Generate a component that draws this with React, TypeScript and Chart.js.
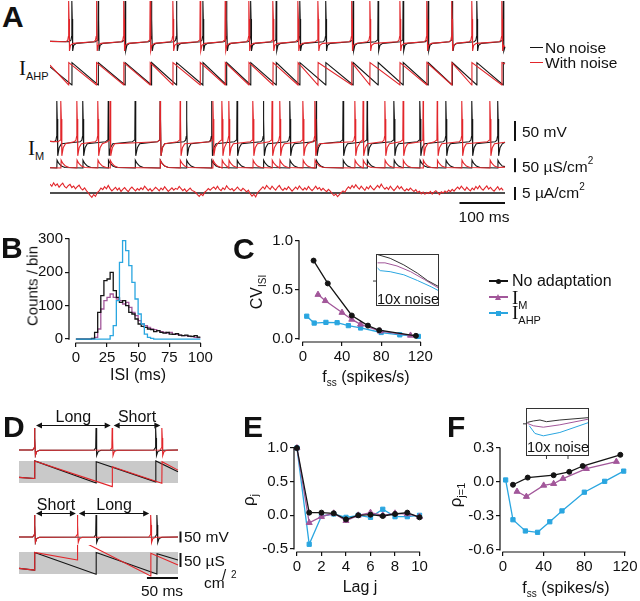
import React, { useEffect, useRef } from "react";
import { Chart, registerables } from "chart.js";

Chart.register(...registerables);

const SANS = "'Liberation Sans', Arial, Helvetica, sans-serif";
const SERIF = "'Liberation Serif', 'Times New Roman', serif";
const INK = "#111111";
const BLACK = "#141414";
const RED = "#e2262b";
const PURPLE = "#a2579a";
const BLUE = "#2aa6e0";
const GRAY_BAND = "#c9c9c9";

Chart.defaults.font.family = SANS;
Chart.defaults.font.size = 15;
Chart.defaults.color = INK;

// ---------------- Panel A data (ms) ----------------
const ahpSpikesNoNoise = [48, 106, 165, 223, 278, 336, 388, 441, 497, 549, 606, 666, 721, 776, 831, 884, 938, 996];
const ahpSpikesNoise = [41, 102, 162, 220, 270, 330, 385, 437, 490, 545, 589, 663, 703, 769, 828, 883, 927, 993];
const imSpikesNoNoise = [15, 72, 128, 187, 242, 300, 355, 411, 469, 527, 585, 644, 697, 756, 813, 870, 927, 984];
const imSpikesNoise = [24, 59, 105, 132, 242, 286, 358, 378, 393, 446, 488, 505, 556, 582, 670, 688, 736, 776, 820, 851, 905, 967];

// spike waveform templates: [time from spike (ms), membrane potential (mV)]
const ahpSpikeShape = [[-6, -57], [-2, -53], [-0.6, -44], [0, 45], [0.9, 0], [1.8, -80], [4, -66], [10, -61]];
const imSpikeShape = [[-6, -57], [-2, -53], [-0.6, -44], [0, 45], [0.9, 0], [2, -92], [5, -72], [10, -62]];
// conductance templates: [time from spike (ms), conductance (uS/cm2)]
const ahpCondShape = [[0, 10], [0.3, 90]];
const imCondShape = [[0, 5], [0.5, 33], [4, 22], [10, 12], [18, 7]];

// injected noise current (uA/cm2), sampled every NOISE_DT ms
const NOISE_DT = 4;
const noiseCurrent = [
  3.4, 2.6, 3.9, 2.8, 3.5, 2.2, 3.1, 3.8, 2.5, 1.9,
  2.8, 3.3, 2.1, 2.7, 1.6, 2.4, 3.0, 1.8, 1.2, 2.0,
  0.9, 0.1, -0.9, -1.7, -0.6, -1.3, 0.2, 0.8, 1.9, 1.3,
  2.4, 1.6, 2.9, 1.7, 0.8, 1.5, 2.2, 1.1, 1.9, 0.6,
  1.4, 2.1, 1.2, 0.5, 1.6, 2.3, 1.5, 0.8, 1.7, 1.1,
  2.0, 1.3, 2.6, 1.8, 0.9, 1.7, 0.7, 1.4, 2.2, 1.6,
  0.8, 1.9, 1.2, 2.4, 1.5, 0.6, 1.3, 2.0, 1.1, 1.8,
  1.4, 2.5, 1.7, 0.9, 1.6, 0.5, 1.2, 1.9, 1.0, 0.7,
  0.2, -0.6, -1.3, -0.4, -1.0, 0.3, 0.9, 1.7, 1.1, 1.8,
  2.3, 1.4, 2.6, 1.5, 0.9, 2.0, 1.3, 2.8, 1.9, 1.2,
  1.7, 0.8, 1.5, 2.3, 1.4, 0.9, 1.8, 1.2, 0.4, 1.1,
  -0.3, -1.2, -0.5, -1.5, 0.0, 0.8, 1.6, 2.4, 1.5, 2.9,
  2.1, 1.4, 2.6, 1.8, 1.1, 2.2, 2.9, 1.7, 1.0, 1.9,
  1.3, 2.4, 1.6, 0.7, 1.5, 2.3, 1.4, 2.7, 1.8, 1.1,
  2.0, 1.2, 2.5, 1.6, 0.9, 1.7, 2.6, 1.5, 2.1, 1.0,
  1.8, 1.1, 0.5, 1.4, 0.7, -0.2, -1.0, -0.4, -1.4, -0.6,
  0.1, 0.8, 0.3, 1.5, 2.4, 1.7, 2.9, 2.0, 3.2, 2.2,
  1.5, 2.6, 1.8, 1.0, 2.3, 1.6, 2.8, 1.9, 1.2, 2.1,
  2.9, 2.0, 3.4, 2.3, 1.5, 2.2, 1.3, 2.6, 1.7, 0.9,
  1.8, 2.7, 1.6, 2.4, 1.4, 0.8, 1.6, 1.0, 1.9, 1.2,
  0.6, 1.3, 0.2, 0.7, -0.3, 0.4, -0.5, 0.2, -0.2, 0.6,
  -0.4, 0.3, 0.9, 0.1, -0.6, 0.5, 0.0, 0.8, 0.2, 1.1,
  0.5, 1.4, 0.7, 1.6, 2.3, 1.5, 2.6, 1.8, 1.0, 2.2,
  1.4, 0.8, 1.9, 1.2, 2.5, 1.6, 2.8, 1.7, 1.1, 2.0,
  2.7, 1.5, 2.2, 1.3, 0.7, 1.6, 2.4, 1.2, 1.9, 1.0,
];

// ---------------- Panel B: ISI histograms ----------------
const histBinEdges = [0, 2.5, 5, 7.5, 10, 12.5, 15, 17.5, 20, 22.5, 25, 27.5, 30, 32.5, 35, 37.5, 40, 42.5, 45, 47.5,
  50, 52.5, 55, 57.5, 60, 62.5, 65, 67.5, 70, 72.5, 75, 77.5, 80, 82.5, 85, 87.5, 90, 92.5, 95, 97.5];
const histNoAdaptation = [0, 0, 0, 0, 0, 2, 20, 80, 130, 175, 180, 200, 145, 125, 110, 115, 100, 80, 75, 60,
  45, 38, 35, 30, 28, 22, 25, 20, 18, 20, 15, 14, 16, 12, 10, 12, 9, 8, 10, 6];
const histIM = [0, 0, 0, 0, 0, 0, 5, 30, 90, 115, 125, 135, 125, 120, 115, 105, 110, 95, 80, 70,
  55, 45, 40, 35, 30, 28, 25, 22, 20, 18, 20, 15, 14, 12, 10, 10, 8, 7, 5, 4];
const histIAHP = [0, 0, 0, 0, 0, 0, 0, 0, 0, 0, 0, 10, 40, 115, 230, 295, 265, 220, 170, 120,
  75, 45, 15, 5, 2, 0, 0, 0, 0, 0, 0, 0, 0, 0, 0, 0, 0, 0, 0, 0];
const histTicksX = [0, 25, 50, 75, 100];
const histTicksY = [0, 100, 200, 300];

// ---------------- Panel C: CV vs rate ----------------
const cvRateNoAdaptation = [11, 25.5, 50, 66.5, 78, 115.5];
const cvNoAdaptation = [0.8, 0.567, 0.24, 0.137, 0.09, 0.033];
const cvRateIM = [15.5, 23, 40, 50, 59, 79, 110];
const cvIM = [0.453, 0.39, 0.27, 0.2, 0.15, 0.08, 0.037];
const cvRateIAHP = [4, 11.6, 23.6, 35, 46.5, 59, 80, 99, 118];
const cvIAHP = [0.233, 0.163, 0.17, 0.167, 0.137, 0.113, 0.067, 0.043, 0.027];
const cvTicksX = [0, 40, 80, 120];
const cvTicksY = [0, 0.5, 1.0];
// inset (10x noise), normalised units
const cvInsetRateNoAdaptation = [2.5, 27, 53, 79, 98, 120];
const cvInsetNoAdaptation = [0.99, 0.917, 0.79, 0.63, 0.49, 0.37];
const cvInsetRateIM = [3, 17, 40, 66, 92, 120];
const cvInsetIM = [0.83, 0.83, 0.77, 0.66, 0.51, 0.34];
const cvInsetRateIAHP = [3, 8, 27, 53, 79, 105, 120];
const cvInsetIAHP = [0.73, 0.68, 0.66, 0.6, 0.49, 0.37, 0.29];

// ---------------- Panel D: example ISI pairs ----------------
const dTopSpikesNoNoise = [25, 124, 220];
const dTopSpikesNoise = [25, 150, 230];
const dBotSpikesNoNoise = [25, 124, 222];
const dBotSpikesNoise = [25, 94, 212];
const dSpikeShape = [[-3, -55], [-0.5, -45], [0, 45], [0.7, 0], [1.4, -80], [3.5, -62], [8, -56]];
const dTopCondTimesNoNoise = [0, 25, 25.3, 124, 124.3, 220, 220.3, 256];
const dTopCondNoNoise = [20, 16, 79, 0, 76, 4, 79, 40];
const dTopCondTimesNoise = [0, 25, 25.3, 150, 150.3, 230, 230.3, 256];
const dTopCondNoise = [20, 16, 79, -13, 58, -1, 76, 46];
const dBotCondTimesNoNoise = [0, 25, 25.3, 124, 124.3, 222, 222.3, 256];
const dBotCondNoNoise = [20, 14, 77, -1, 77, 0, 72, 50];
const dBotCondTimesNoise = [0, 25, 25.3, 94, 94.3, 212, 212.3, 256];
const dBotCondNoise = [20, 14, 77, 50, 125, -7, 74, 32];

// ---------------- Panel E: serial correlation ----------------
const lags = [0, 1, 2, 3, 4, 5, 6, 7, 8, 9, 10];
const rhoNoAdaptation = [1.0, 0.04, 0.04, 0.03, -0.06, 0.0, 0.01, -0.01, 0.02, 0.04, -0.03];
const rhoIM = [1.0, -0.11, -0.02, 0.03, -0.08, 0.0, 0.04, 0.0, 0.03, 0.02, -0.02];
const rhoIAHP = [1.0, -0.43, -0.01, 0.02, -0.03, 0.0, -0.03, 0.09, -0.02, -0.02, 0.0];
const lagTicksX = [0, 2, 4, 6, 8, 10];
const rhoTicksY = [-0.5, 0, 0.5, 1.0];

// ---------------- Panel F: rho1 vs rate ----------------
const rho1RateNoAdaptation = [9.8, 24.3, 49.8, 65.2, 78.4, 115.4];
const rho1NoAdaptation = [-0.024, 0.039, 0.06, 0.09, 0.141, 0.24];
const rho1RateIM = [13.8, 23, 40, 49.8, 59, 82, 111.5];
const rho1IM = [-0.084, -0.129, -0.03, -0.015, 0.03, 0.117, 0.18];
const rho1RateIAHP = [2.6, 9.8, 22, 34, 46, 58, 80, 100, 118.7];
const rho1IAHP = [0.018, -0.333, -0.432, -0.444, -0.351, -0.255, -0.09, 0.006, 0.096];
const rho1TicksX = [0, 40, 80, 120];
const rho1TicksY = [-0.6, -0.3, 0, 0.3];
const rho1InsetRateNoAdaptation = [2.5, 14, 26.6, 39, 64.5, 120];
const rho1InsetNoAdaptation = [0.7, 0.73, 0.75, 0.715, 0.75, 0.8];
const rho1InsetRateIM = [2.5, 14, 33, 64.5, 120];
const rho1InsetIM = [0.68, 0.63, 0.6, 0.65, 0.77];
const rho1InsetRateIAHP = [6.3, 17, 33, 64.5, 120];
const rho1InsetIAHP = [0.63, 0.47, 0.42, 0.49, 0.7];

// ---------------- helpers ----------------
const zip = (xs: number[], ys: number[]) => xs.map((x, i) => ({ x, y: ys[i] }));

function spikeTrace(spikes: number[], shape: number[][], t0: number, t1: number, startV: number, endV: number, preGuard: number, postGuard: number) {
  const pts: any[] = [{ x: t0, y: startV }];
  spikes.forEach((s, i) => {
    const prev = i > 0 ? spikes[i - 1] : -1e9;
    const next = i < spikes.length - 1 ? spikes[i + 1] : 1e9;
    shape.forEach(([dt, v]) => {
      const t = s + dt;
      if (t <= t0 || t >= t1) return;
      if (dt < 0 && t <= prev + preGuard) return;
      if (dt > 0 && t >= next - postGuard) return;
      pts.push({ x: t, y: v });
    });
  });
  pts.push({ x: t1, y: endV });
  return pts;
}

function condTrace(spikes: number[], shape: number[][], t0: number, t1: number, startV: number, endV: number) {
  const pts: any[] = [{ x: t0, y: startV }];
  spikes.forEach((s, i) => {
    const next = i < spikes.length - 1 ? spikes[i + 1] : 1e9;
    shape.forEach(([dt, v]) => {
      const t = s + dt;
      if (t <= t0 || t >= t1 || t >= next - 0.5) return;
      pts.push({ x: t, y: v });
    });
  });
  pts.push({ x: t1, y: endV });
  return pts;
}

function histPoints(edges: number[], counts: number[], end: number) {
  const pts = edges.map((e, i) => ({ x: e, y: counts[i] }));
  pts.push({ x: end, y: counts[counts.length - 1] });
  return pts;
}

const traceDs = (data: any[], color: string, width = 1.1) => ({
  data, borderColor: color, borderWidth: width, pointRadius: 0, tension: 0, clip: false, fill: false,
});

const markerDs = (data: any[], color: string, style: string, radius: number) => ({
  data, borderColor: color, backgroundColor: color, borderWidth: 1.3, pointStyle: style,
  pointRadius: radius, pointBorderWidth: 1, pointBackgroundColor: color, pointBorderColor: color, tension: 0, clip: false,
});

// ---------------- plugins ----------------
const rangeAxes = {
  id: "rangeAxes",
  afterDraw(chart: any) {
    const { ctx, chartArea, scales } = chart;
    const xs = scales.x, ys = scales.y;
    const xt = xs.ticks.map((t: any) => xs.getPixelForValue(t.value));
    const yt = ys.ticks.map((t: any) => ys.getPixelForValue(t.value));
    ctx.save();
    ctx.strokeStyle = INK;
    ctx.lineWidth = 1.2;
    ctx.beginPath();
    ctx.moveTo(Math.min(...xt) - 0.6, chartArea.bottom);
    ctx.lineTo(Math.max(...xt) + 0.6, chartArea.bottom);
    ctx.moveTo(chartArea.left, Math.min(...yt) - 0.6);
    ctx.lineTo(chartArea.left, Math.max(...yt) + 0.6);
    ctx.stroke();
    ctx.restore();
  },
};

function makeScaleBars(bars: { x: number[]; y: number[]; w: number }[]) {
  return {
    id: "scaleBars",
    afterDatasetsDraw(chart: any) {
      const { ctx, scales } = chart;
      ctx.save();
      ctx.strokeStyle = INK;
      bars.forEach((b) => {
        ctx.lineWidth = b.w;
        ctx.beginPath();
        ctx.moveTo(scales.x.getPixelForValue(b.x[0]), scales.y.getPixelForValue(b.y[0]));
        ctx.lineTo(scales.x.getPixelForValue(b.x[1]), scales.y.getPixelForValue(b.y[1]));
        ctx.stroke();
      });
      ctx.restore();
    },
  };
}

function makeFrame(yTicks: number[], xTicks: number[]) {
  return {
    id: "insetFrame",
    afterDraw(chart: any) {
      const { ctx, chartArea: a, scales } = chart;
      ctx.save();
      ctx.strokeStyle = "#333";
      ctx.lineWidth = 1;
      ctx.strokeRect(a.left + 0.5, a.top + 0.5, a.right - a.left - 1, a.bottom - a.top - 1);
      ctx.beginPath();
      yTicks.forEach((v) => {
        const py = scales.y.getPixelForValue(v);
        ctx.moveTo(a.left - 3, py);
        ctx.lineTo(a.left, py);
      });
      xTicks.forEach((v) => {
        const px = scales.x.getPixelForValue(v);
        ctx.moveTo(px, a.bottom);
        ctx.lineTo(px, a.bottom + 3);
      });
      ctx.stroke();
      ctx.restore();
    },
  };
}

function makeBand(color: string) {
  return {
    id: "band",
    beforeDatasetsDraw(chart: any) {
      const { ctx, chartArea: a } = chart;
      ctx.save();
      ctx.fillStyle = color;
      ctx.fillRect(a.left, a.top, a.right - a.left, a.bottom - a.top);
      ctx.restore();
    },
  };
}

function makeArrows(arrows: { from: number; to: number; label: string }[], yVal: number) {
  return {
    id: "isiArrows",
    afterDatasetsDraw(chart: any) {
      const { ctx, scales } = chart;
      const py = Math.round(scales.y.getPixelForValue(yVal)) + 0.5;
      ctx.save();
      ctx.strokeStyle = INK;
      ctx.fillStyle = INK;
      ctx.lineWidth = 1.2;
      ctx.font = `16px ${SANS}`;
      ctx.textAlign = "center";
      ctx.textBaseline = "alphabetic";
      const head = (x: number, dir: number) => {
        ctx.beginPath();
        ctx.moveTo(x, py);
        ctx.lineTo(x + dir * 6, py - 3);
        ctx.lineTo(x + dir * 6, py + 3);
        ctx.closePath();
        ctx.fill();
      };
      arrows.forEach((a) => {
        const x0 = scales.x.getPixelForValue(a.from) + 1.5;
        const x1 = scales.x.getPixelForValue(a.to) - 1.5;
        ctx.beginPath();
        ctx.moveTo(x0 + 3, py);
        ctx.lineTo(x1 - 3, py);
        ctx.stroke();
        head(x0, 1);
        head(x1, -1);
        ctx.fillText(a.label, (x0 + x1) / 2, py - 4);
      });
      ctx.restore();
    },
  };
}

// ---------------- config builders ----------------
function baseOptions(padding: any, scales: any) {
  return {
    animation: false,
    responsive: false,
    maintainAspectRatio: false,
    events: [],
    layout: { padding },
    plugins: { legend: { display: false }, tooltip: { enabled: false } },
    scales,
  };
}

function hiddenScales(xMin: number, xMax: number, yMin: number, yMax: number) {
  return {
    x: { type: "linear", display: false, min: xMin, max: xMax },
    y: { type: "linear", display: false, min: yMin, max: yMax },
  };
}

function axis(min: number, max: number, ticks: number[], fit: number, isX: boolean, fmt: (v: number) => string) {
  return {
    type: "linear",
    min,
    max,
    afterBuildTicks: (s: any) => {
      s.ticks = ticks.map((v) => ({ value: v }));
    },
    afterFit: (s: any) => {
      if (isX) s.height = fit;
      else s.width = fit;
    },
    grid: { drawOnChartArea: false, drawTicks: true, tickLength: 4, color: INK, lineWidth: 1.2 },
    border: { display: false },
    ticks: { padding: 2, color: INK, font: { size: 15, family: SANS }, autoSkip: false, maxRotation: 0, callback: (v: number) => fmt(v) },
  };
}

const fmt1 = (v: number) => v.toFixed(1);
const fmt0 = (v: number) => String(Math.round(v));

// ---------------- React pieces ----------------
function ChartCanvas({ left, top, width, height, make }: any) {
  const ref = useRef<HTMLCanvasElement>(null);
  useEffect(() => {
    const chart = new Chart(ref.current as HTMLCanvasElement, make());
    return () => chart.destroy();
  }, []);
  return (
    <canvas
      ref={ref}
      width={width}
      height={height}
      style={{ position: "absolute", left, top, width, height }}
    />
  );
}

function Txt({ x, y, size = 16, bold = false, family = SANS, anchor = "start", children }: any) {
  const top = y - 0.8465 * size;
  const transform = anchor === "middle" ? "translateX(-50%)" : anchor === "end" ? "translateX(-100%)" : undefined;
  return (
    <div
      style={{
        position: "absolute", left: x, top, fontSize: size, lineHeight: `${size}px`, fontFamily: family,
        fontWeight: bold ? "bold" : "normal", whiteSpace: "nowrap", transform, color: INK,
      }}
    >
      {children}
    </div>
  );
}

function VTxt({ cx, cy, size = 16, children }: any) {
  return (
    <div
      style={{
        position: "absolute", left: cx, top: cy, fontSize: size, lineHeight: 1, fontFamily: SANS,
        whiteSpace: "nowrap", transform: "translate(-50%, -50%) rotate(-90deg)", color: INK,
      }}
    >
      {children}
    </div>
  );
}

const Sub = ({ children, size = 11 }: any) => (
  <span style={{ fontSize: size, position: "relative", top: size * 0.4, lineHeight: 0, fontFamily: SANS }}>{children}</span>
);
const Sup = ({ children, size = 11 }: any) => (
  <span style={{ fontSize: size, position: "relative", top: -size * 0.75, lineHeight: 0, fontFamily: SANS }}>{children}</span>
);
const SerifI = ({ size = 20 }: any) => (
  <span style={{ fontFamily: SERIF, fontSize: size, lineHeight: 0 }}>I</span>
);

function LegendLine({ x1, x2, y, color, marker }: any) {
  const cx = (x1 + x2) / 2;
  let m: any = null;
  if (marker === "circle")
    m = <div style={{ position: "absolute", left: cx - 2.5, top: y - 2.5, width: 5, height: 5, borderRadius: "50%", background: color }} />;
  if (marker === "square")
    m = <div style={{ position: "absolute", left: cx - 2.5, top: y - 2.5, width: 5, height: 5, background: color }} />;
  if (marker === "triangle")
    m = (
      <div
        style={{
          position: "absolute", left: cx - 3.5, top: y - 3.5, width: 0, height: 0,
          borderLeft: "3.5px solid transparent", borderRight: "3.5px solid transparent", borderBottom: `6px solid ${color}`,
        }}
      />
    );
  return (
    <>
      <div style={{ position: "absolute", left: x1, top: y - 0.75, width: x2 - x1, height: 1.5, background: color }} />
      {m}
    </>
  );
}

// ---------------- chart factories ----------------
const A_PAD = { left: 0, right: 135, top: 0, bottom: 0 };
const A_XMAX = 1000;

const makeAhpVoltage = () => ({
  type: "line",
  data: {
    datasets: [
      traceDs(spikeTrace(ahpSpikesNoise, ahpSpikeShape, 0, A_XMAX, -56, -70, 11, 6), RED),
      traceDs(spikeTrace(ahpSpikesNoNoise, ahpSpikeShape, 0, A_XMAX, -56, -70, 11, 6), BLACK),
    ],
  },
  options: baseOptions(A_PAD, hiddenScales(0, A_XMAX, -92.5, 47.5)),
});

const makeAhpCond = () => ({
  type: "line",
  data: {
    datasets: [
      traceDs(condTrace(ahpSpikesNoise, ahpCondShape, 0, A_XMAX, 81, 85), RED),
      traceDs(condTrace(ahpSpikesNoNoise, ahpCondShape, 0, A_XMAX, 75, 88), BLACK),
    ],
  },
  options: baseOptions(A_PAD, hiddenScales(0, A_XMAX, -7.9, 113.6)),
});

const makeImVoltage = () => ({
  type: "line",
  data: {
    datasets: [
      traceDs(spikeTrace(imSpikesNoise, imSpikeShape, 0, A_XMAX, -56, -58, 11, 6), RED),
      traceDs(spikeTrace(imSpikesNoNoise, imSpikeShape, 0, A_XMAX, -56, -58, 11, 6), BLACK),
    ],
  },
  options: baseOptions(A_PAD, hiddenScales(0, A_XMAX, -107.5, 57.5)),
  plugins: [makeScaleBars([{ x: [1022, 1022], y: [-55, -5], w: 2 }])],
});

const makeImCond = () => ({
  type: "line",
  data: {
    datasets: [
      traceDs(condTrace(imSpikesNoise, imCondShape, 0, A_XMAX, 6, 8), RED),
      traceDs(condTrace(imSpikesNoNoise, imCondShape, 0, A_XMAX, 6, 10), BLACK),
    ],
  },
  options: baseOptions(A_PAD, hiddenScales(0, A_XMAX, -37.9, 69.3)),
  plugins: [makeScaleBars([{ x: [1022, 1022], y: [-10, 40], w: 2 }])],
});

const makeNoise = () => ({
  type: "line",
  data: {
    datasets: [
      traceDs(noiseCurrent.map((v, i) => ({ x: i * NOISE_DT, y: v })), RED, 1.1),
      traceDs([{ x: 0, y: 0 }, { x: A_XMAX, y: 0 }], BLACK, 1.3),
    ],
  },
  options: baseOptions(A_PAD, hiddenScales(0, A_XMAX, -12.7, 6.54)),
  plugins: [
    makeScaleBars([
      { x: [1022, 1022], y: [-2.69, 2.31], w: 2 },
      { x: [900, 1000], y: [-3.85, -3.85], w: 2 },
    ]),
  ],
});

const makeHist = () => ({
  type: "line",
  data: {
    datasets: [
      { ...traceDs(histPoints(histBinEdges, histIAHP, 100), BLUE, 1.3), stepped: true },
      { ...traceDs(histPoints(histBinEdges, histNoAdaptation, 100), BLACK, 1.3), stepped: true },
      { ...traceDs(histPoints(histBinEdges, histIM, 100), PURPLE, 1.3), stepped: true },
    ],
  },
  options: baseOptions(
    { left: 0, top: 10, right: 11, bottom: 0 },
    {
      x: axis(-5.56, 101.6, histTicksX, 53, true, fmt0),
      y: axis(-11.9, 305.9, histTicksY, 69, false, fmt0),
    }
  ),
  plugins: [rangeAxes],
});

const makeCv = () => ({
  type: "line",
  data: {
    datasets: [
      markerDs(zip(cvRateNoAdaptation, cvNoAdaptation), BLACK, "circle", 2.5),
      markerDs(zip(cvRateIM, cvIM), PURPLE, "triangle", 3.5),
      markerDs(zip(cvRateIAHP, cvIAHP), BLUE, "rect", 3),
    ],
  },
  options: baseOptions(
    { left: 0, top: 9, right: 5, bottom: 0 },
    {
      x: axis(-3.9, 123.9, cvTicksX, 51, true, fmt0),
      y: axis(-0.03, 1.02, cvTicksY, 79, false, fmt1),
    }
  ),
  plugins: [rangeAxes],
});

const makeCvInset = () => ({
  type: "line",
  data: {
    datasets: [
      traceDs(zip(cvInsetRateNoAdaptation, cvInsetNoAdaptation), "#333333", 1),
      traceDs(zip(cvInsetRateIM, cvInsetIM), PURPLE, 1),
      traceDs(zip(cvInsetRateIAHP, cvInsetIAHP), BLUE, 1),
    ],
  },
  options: baseOptions({ left: 6, right: 6, top: 6, bottom: 4 }, hiddenScales(0, 120, 0, 1)),
  plugins: [makeFrame([0.48], [])],
});

const makeRho = () => ({
  type: "line",
  data: {
    datasets: [
      markerDs(zip(lags, rhoNoAdaptation), BLACK, "circle", 2.5),
      markerDs(zip(lags, rhoIM), PURPLE, "triangle", 3.5),
      markerDs(zip(lags, rhoIAHP), BLUE, "rect", 3),
    ],
  },
  options: baseOptions(
    { left: 0, top: 15, right: 5, bottom: 0 },
    {
      x: axis(-0.24, 10.24, lagTicksX, 49, true, fmt0),
      y: axis(-0.5446, 1.0446, rhoTicksY, 94, false, fmt1),
    }
  ),
  plugins: [rangeAxes],
});

const makeRho1 = () => ({
  type: "line",
  data: {
    datasets: [
      markerDs(zip(rho1RateNoAdaptation, rho1NoAdaptation), BLACK, "circle", 2.5),
      markerDs(zip(rho1RateIM, rho1IM), PURPLE, "triangle", 3.5),
      markerDs(zip(rho1RateIAHP, rho1IAHP), BLUE, "rect", 3),
    ],
  },
  options: baseOptions(
    { left: 0, top: 15, right: 12, bottom: 0 },
    {
      x: axis(-2.95, 122.95, rho1TicksX, 49, true, fmt0),
      y: axis(-0.6177, 0.3265, rho1TicksY, 80, false, fmt1),
    }
  ),
  plugins: [rangeAxes],
});

const makeRho1Inset = () => ({
  type: "line",
  data: {
    datasets: [
      traceDs(zip(rho1InsetRateNoAdaptation, rho1InsetNoAdaptation), "#333333", 1),
      traceDs(zip(rho1InsetRateIM, rho1InsetIM), PURPLE, 1),
      traceDs(zip(rho1InsetRateIAHP, rho1InsetIAHP), BLUE, 1),
    ],
  },
  options: baseOptions({ left: 6, right: 6, top: 6, bottom: 6 }, hiddenScales(0, 120, 0, 1)),
  plugins: [makeFrame([0.67], [39, 80])],
});

const D_PAD_X = { left: 19, right: 52 };
const D_XMAX = 256;

const makeDVoltage = (noNoise: number[], noise: number[], yMin: number, yMax: number, pad: any, arrowY: number, bars: any[]) => () => ({
  type: "line",
  data: {
    datasets: [
      traceDs(spikeTrace(noise, dSpikeShape, 0, D_XMAX, -55, -55, 9, 4), RED),
      traceDs(spikeTrace(noNoise, dSpikeShape, 0, D_XMAX, -55, -55, 9, 4), BLACK),
    ],
  },
  options: baseOptions({ ...D_PAD_X, ...pad }, hiddenScales(0, D_XMAX, yMin, yMax)),
  plugins: [
    makeArrows(
      [
        { from: noise[0], to: noise[1], label: noise[1] - noise[0] > noise[2] - noise[1] ? "Long" : "Short" },
        { from: noise[1], to: noise[2], label: noise[1] - noise[0] > noise[2] - noise[1] ? "Short" : "Long" },
      ],
      arrowY
    ),
    makeScaleBars(bars),
  ],
});

const makeDCond = (tB: number[], gB: number[], tR: number[], gR: number[], pad: any, bars: any[]) => () => ({
  type: "line",
  data: {
    datasets: [traceDs(zip(tR, gR), RED), traceDs(zip(tB, gB), BLACK)],
  },
  options: baseOptions({ ...D_PAD_X, ...pad }, hiddenScales(0, D_XMAX, 0, 78.6)),
  plugins: [makeBand(GRAY_BAND), makeScaleBars(bars)],
});

export default function App() {
  return (
    <div style={{ position: "absolute", left: 0, top: 0, width: 640, height: 601, background: "#fff", overflow: "hidden" }}>
      {/* Panel A */}
      <ChartCanvas left={50} top={0} width={590} height={56} make={makeAhpVoltage} />
      <ChartCanvas left={50} top={56} width={590} height={34} make={makeAhpCond} />
      <ChartCanvas left={50} top={96} width={590} height={66} make={makeImVoltage} />
      <ChartCanvas left={50} top={150} width={590} height={30} make={makeImCond} />
      <ChartCanvas left={50} top={176} width={590} height={50} make={makeNoise} />

      {/* Panel B */}
      <ChartCanvas left={0} top={226} width={215} height={170} make={makeHist} />
      {/* Panel C */}
      <ChartCanvas left={220} top={228} width={215} height={165} make={makeCv} />
      <ChartCanvas left={370} top={248} width={75} height={62} make={makeCvInset} />

      {/* Panel D */}
      <ChartCanvas left={0} top={405} width={230} height={57}
        make={makeDVoltage(dTopSpikesNoNoise, dTopSpikesNoise, -100.5, 81.4, { top: 15, bottom: 2 }, 58.6, [])} />
      <ChartCanvas left={0} top={458} width={230} height={32}
        make={makeDCond(dTopCondTimesNoNoise, dTopCondNoNoise, dTopCondTimesNoise, dTopCondNoise, { top: 3, bottom: 7 }, [])} />
      <ChartCanvas left={0} top={490} width={230} height={60}
        make={makeDVoltage(dBotSpikesNoNoise, dBotSpikesNoise, -100.45, 90.45, { top: 15, bottom: 3 }, 54,
          [{ x: [260, 260], y: [-80, -30], w: 2 }])} />
      <ChartCanvas left={0} top={545} width={230} height={56}
        make={makeDCond(dBotCondTimesNoNoise, dBotCondNoNoise, dBotCondTimesNoise, dBotCondNoise, { top: 7, bottom: 27 },
          [{ x: [260, 260], y: [25, 75], w: 2 }, { x: [206, 256], y: [-14.3, -14.3], w: 2 }])} />

      {/* Panel E */}
      <ChartCanvas left={200} top={430} width={230} height={171} make={makeRho} />
      {/* Panel F */}
      <ChartCanvas left={420} top={430} width={220} height={171} make={makeRho1} />
      <ChartCanvas left={520} top={402} width={75} height={60} make={makeRho1Inset} />

      {/* Panel letters */}
      <Txt x={2} y={27} size={30} bold>A</Txt>
      <Txt x={1} y={258} size={30} bold>B</Txt>
      <Txt x={233} y={259} size={30} bold>C</Txt>
      <Txt x={3} y={437} size={30} bold>D</Txt>
      <Txt x={243} y={437} size={30} bold>E</Txt>
      <Txt x={447} y={437} size={30} bold>F</Txt>

      {/* Panel A labels */}
      <Txt x={19} y={76} size={16}><SerifI size={21} /><Sub size={11}>AHP</Sub></Txt>
      <Txt x={28} y={156} size={16}><SerifI size={21} /><Sub size={11}>M</Sub></Txt>
      <LegendLine x1={530} x2={543} y={47.5} color={BLACK} />
      <LegendLine x1={530} x2={543} y={62.5} color={RED} />
      <Txt x={545} y={53} size={15.5}>No noise</Txt>
      <Txt x={545} y={68} size={15.5}>With noise</Txt>
      <Txt x={522} y={137} size={15.5}>50 mV</Txt>
      <Txt x={522} y={172} size={15.5}>50 µS/cm<Sup size={10}>2</Sup></Txt>
      <Txt x={522} y={198} size={15.5}>5 µA/cm<Sup size={10}>2</Sup></Txt>
      <Txt x={484} y={222} size={15.5} anchor="middle">100 ms</Txt>

      {/* Panel B labels */}
      <VTxt cx={32} cy={286} size={15}>Counts / bin</VTxt>
      <Txt x={138} y={381} size={16} anchor="middle">ISI (ms)</Txt>

      {/* Panel C labels */}
      <VTxt cx={257} cy={292} size={16}>CV<Sub size={10}>ISI</Sub></VTxt>
      <Txt x={366} y={383} size={16} anchor="middle">f<Sub size={10}>ss</Sub> (spikes/s)</Txt>
      <Txt x={377} y={304} size={14.5}>10x noise</Txt>
      <LegendLine x1={489} x2={508} y={281} color={BLACK} marker="circle" />
      <LegendLine x1={489} x2={508} y={297} color={PURPLE} marker="triangle" />
      <LegendLine x1={489} x2={508} y={313} color={BLUE} marker="square" />
      <Txt x={512} y={287} size={16}>No adaptation</Txt>
      <Txt x={512} y={305} size={16}><SerifI size={19} /><Sub size={11}>M</Sub></Txt>
      <Txt x={512} y={320} size={16}><SerifI size={19} /><Sub size={11}>AHP</Sub></Txt>

      {/* Panel D labels */}
      <Txt x={184} y={542} size={15.5}>50 mV</Txt>
      <Txt x={184} y={566} size={15.5}>50 µS</Txt>
      <Txt x={222} y={580} size={15}>/</Txt>
      <Txt x={204} y={588} size={15.5}>cm</Txt>
      <Txt x={231} y={578} size={10}>2</Txt>
      <Txt x={162} y={596} size={15.5} anchor="middle">50 ms</Txt>

      {/* Panel E labels */}
      <VTxt cx={248} cy={500} size={17}>ρ<Sub size={11}>j</Sub></VTxt>
      <Txt x={360} y={593} size={16} anchor="middle">Lag j</Txt>

      {/* Panel F labels */}
      <VTxt cx={455} cy={495} size={17}>ρ<Sub size={11}>j=1</Sub></VTxt>
      <Txt x={566} y={594} size={16} anchor="middle">f<Sub size={10}>ss</Sub> (spikes/s)</Txt>
      <Txt x={527} y={452} size={14.5}>10x noise</Txt>
    </div>
  );
}
